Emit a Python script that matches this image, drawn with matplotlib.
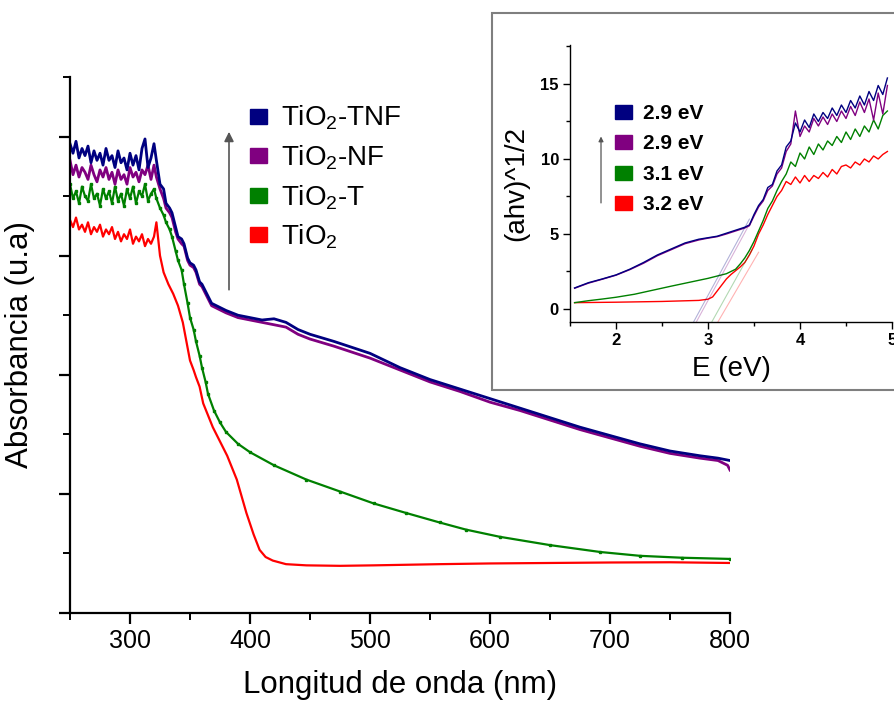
import numpy as np
import matplotlib
matplotlib.use("Agg")
import matplotlib.pyplot as plt
from matplotlib.patches import Patch, Rectangle

plt.rcParams["font.family"] = ["Liberation Sans", "DejaVu Sans"]
plt.rcParams["mathtext.fontset"] = "custom"
plt.rcParams["mathtext.rm"] = "Liberation Sans"
plt.rcParams["mathtext.it"] = "Liberation Sans:italic"
plt.rcParams["mathtext.bf"] = "Liberation Sans:bold"

# ---- main spectra (absorbance, arbitrary units) ----
# noisy flat region 250-320 nm, shared wavelength grid
wl_flat = [250, 252.5, 255, 257.5, 260, 262.5, 265, 267.5, 270, 272.5, 275, 277.5, 280, 282.5,
           285, 287.5, 290, 292.5, 295, 297.5, 300, 302.5, 305, 307.5, 310, 312.5, 315, 317.5, 320]

flat_tnf = [1.97, 1.93, 1.98, 1.91, 1.95, 1.92, 1.96, 1.89, 1.94, 1.90, 1.93, 1.88, 1.95, 1.90,
            1.92, 1.87, 1.94, 1.89, 1.91, 1.86, 1.93, 1.88, 1.92, 1.86, 1.95, 1.99, 1.87, 1.91, 1.97]
flat_nf = [1.90, 1.84, 1.88, 1.83, 1.87, 1.85, 1.82, 1.88, 1.84, 1.81, 1.86, 1.83, 1.87, 1.82,
           1.85, 1.80, 1.86, 1.82, 1.84, 1.80, 1.87, 1.83, 1.85, 1.81, 1.86, 1.84, 1.88, 1.82, 1.88]
flat_t = [1.80, 1.74, 1.77, 1.72, 1.79, 1.75, 1.73, 1.80, 1.74, 1.76, 1.71, 1.78, 1.74, 1.77,
          1.72, 1.79, 1.73, 1.76, 1.71, 1.78, 1.74, 1.79, 1.72, 1.77, 1.75, 1.80, 1.73, 1.76, 1.78]
flat_ti = [1.65, 1.62, 1.66, 1.61, 1.63, 1.60, 1.64, 1.59, 1.62, 1.60, 1.63, 1.58, 1.61, 1.59,
           1.62, 1.57, 1.60, 1.56, 1.59, 1.57, 1.61, 1.55, 1.58, 1.56, 1.59, 1.54, 1.57, 1.55, 1.58]

# edge and tail, > 320 nm
wl_tnf = [322, 325, 328, 330, 333, 335, 338, 340, 343, 345, 348, 350, 353, 355, 358, 360, 365,
          368, 372, 380, 390, 400, 410, 420, 430, 440, 450, 470, 500, 525, 550, 575, 600, 625,
          650, 675, 700, 725, 750, 775, 790, 800]
abs_tnf = [1.90, 1.80, 1.78, 1.72, 1.70, 1.68, 1.62, 1.58, 1.57, 1.55, 1.49, 1.47, 1.46, 1.44, 1.39,
           1.38, 1.33, 1.30, 1.29, 1.27, 1.25, 1.24, 1.23, 1.235, 1.22, 1.19, 1.17, 1.14, 1.09, 1.03,
           0.98, 0.94, 0.90, 0.86, 0.82, 0.78, 0.745, 0.71, 0.68, 0.66, 0.65, 0.64]

wl_nf = [322, 325, 328, 330, 333, 335, 338, 340, 343, 345, 348, 350, 353, 355, 358, 360, 365,
         368, 372, 380, 390, 400, 410, 420, 430, 440, 450, 470, 500, 525, 550, 575, 600, 625,
         650, 675, 700, 725, 750, 775, 790, 798, 800]
abs_nf = [1.83, 1.78, 1.74, 1.70, 1.68, 1.66, 1.60, 1.57, 1.55, 1.54, 1.48, 1.46, 1.45, 1.43, 1.38,
          1.37, 1.32, 1.29, 1.28, 1.26, 1.24, 1.23, 1.22, 1.21, 1.20, 1.17, 1.15, 1.12, 1.07, 1.02,
          0.97, 0.93, 0.885, 0.85, 0.81, 0.77, 0.735, 0.70, 0.67, 0.65, 0.64, 0.62, 0.60]

wl_t = [322, 325, 328, 330, 333, 335, 338, 340, 343, 345, 348, 350, 353, 355, 358, 360, 363, 365,
        370, 375, 380, 390, 400, 420, 447, 475, 503, 530, 558, 580, 608, 650, 692, 725, 760, 800]
abs_t = [1.74, 1.70, 1.67, 1.64, 1.61, 1.58, 1.52, 1.48, 1.44, 1.38, 1.30, 1.24, 1.19, 1.14, 1.08,
         1.03, 0.97, 0.92, 0.85, 0.80, 0.76, 0.71, 0.675, 0.62, 0.56, 0.51, 0.46, 0.42, 0.38, 0.35,
         0.32, 0.285, 0.256, 0.24, 0.232, 0.227]

wl_ti = [322, 325, 328, 332, 336, 340, 344, 347, 350, 353, 355, 358, 361, 365, 369, 375, 381, 389,
         397, 403, 408, 413, 419, 430, 447, 475, 503, 558, 600, 700, 750, 800]
abs_ti = [1.64, 1.50, 1.43, 1.38, 1.34, 1.29, 1.22, 1.14, 1.06, 1.02, 0.99, 0.95, 0.88, 0.83, 0.78,
          0.72, 0.66, 0.56, 0.42, 0.33, 0.265, 0.235, 0.22, 0.205, 0.20, 0.198, 0.20, 0.205, 0.208,
          0.212, 0.213, 0.21]

labels = ["TiO$_2$-TNF", "TiO$_2$-NF", "TiO$_2$-T", "TiO$_2$"]
colors = ["#000080", "#800080", "#008000", "#ff0000"]

# ---- inset: Tauc plot ----
e_tnf = [1.55, 1.7, 1.85, 2.0, 2.15, 2.3, 2.45, 2.6, 2.75, 2.9, 3.0, 3.1, 3.2, 3.3, 3.4, 3.45,
         3.5, 3.55, 3.6, 3.65, 3.7, 3.75, 3.8, 3.85, 3.9, 3.95, 4.0, 4.05, 4.1, 4.15, 4.2,
         4.25, 4.3, 4.35, 4.4, 4.45, 4.5, 4.55, 4.6, 4.65, 4.7, 4.75, 4.8, 4.85, 4.9, 4.95]
t_tnf = [1.4, 1.75, 2.0, 2.27, 2.65, 3.1, 3.6, 4.0, 4.4, 4.65, 4.75, 4.85, 5.05, 5.25, 5.45, 5.6,
         6.3, 6.9, 7.3, 8.1, 8.3, 9.2, 9.6, 10.8, 11.2, 12.4, 11.8, 12.6, 12.1, 13.0, 12.5,
         13.1, 12.7, 13.4, 12.9, 13.6, 13.1, 13.9, 13.4, 14.2, 13.6, 14.5, 13.9, 14.9, 14.3, 15.4]

e_nf = e_tnf
t_nf = [1.38, 1.72, 1.98, 2.25, 2.62, 3.05, 3.55, 3.95, 4.35, 4.6, 4.72, 4.82, 5.0, 5.2, 5.4, 5.55,
        6.2, 6.8, 7.2, 7.9, 8.2, 9.0, 9.4, 10.5, 11.0, 13.2, 11.5, 12.2, 11.8, 12.7, 12.2,
        12.8, 12.3, 13.0, 12.5, 13.2, 12.7, 13.5, 12.9, 13.8, 13.1, 14.0, 12.6, 14.4, 13.0, 14.9]

e_t = [1.55, 1.7, 1.85, 2.0, 2.2, 2.4, 2.6, 2.8, 3.0, 3.2, 3.3, 3.35, 3.4, 3.45,
       3.5, 3.55, 3.6, 3.65, 3.7, 3.75, 3.8, 3.85, 3.9, 3.95, 4.0, 4.05, 4.1, 4.15, 4.2,
       4.25, 4.3, 4.35, 4.4, 4.45, 4.5, 4.55, 4.6, 4.65, 4.7, 4.75, 4.8, 4.85, 4.9, 4.95]
t_t = [0.42, 0.55, 0.66, 0.78, 0.98, 1.25, 1.52, 1.78, 2.04, 2.35, 2.65, 3.0, 3.4, 3.9,
       4.5, 5.2, 5.9, 6.7, 7.2, 7.9, 8.5, 9.0, 9.8, 9.5, 10.4, 10.0, 10.8, 10.3, 11.0,
       10.6, 11.2, 10.9, 11.5, 11.1, 11.8, 11.3, 12.0, 11.5, 12.2, 11.8, 12.6, 12.0, 12.9, 13.2]

e_ti = [1.55, 2.0, 2.5, 2.9, 3.0, 3.05, 3.1, 3.15, 3.2, 3.25, 3.3, 3.35, 3.4, 3.45,
        3.5, 3.55, 3.6, 3.65, 3.7, 3.75, 3.8, 3.85, 3.9, 3.95, 4.0, 4.05, 4.1, 4.15, 4.2,
        4.25, 4.3, 4.35, 4.4, 4.45, 4.5, 4.55, 4.6, 4.65, 4.7, 4.75, 4.8, 4.85, 4.9, 4.95]
t_ti = [0.42, 0.45, 0.5, 0.57, 0.65, 0.8, 1.2, 1.6, 2.0, 2.3, 2.55, 2.8, 3.1, 3.6,
        4.2, 5.0, 5.6, 6.3, 6.9, 7.5, 7.9, 8.5, 8.3, 8.8, 8.4, 8.9, 8.5, 8.9, 8.7,
        9.1, 8.8, 9.3, 9.0, 9.5, 9.6, 9.4, 9.8, 9.6, 10.0, 9.8, 10.2, 10.0, 10.3, 10.5]

gap_labels = ["2.9 eV", "2.9 eV", "3.1 eV", "3.2 eV"]
# linear extrapolation of the absorption edge: zero crossing, slope, end of fit
edge_e0 = [2.92, 2.95, 3.12, 3.19]
edge_slope = [11.3, 11.3, 11.0, 10.5]
edge_end = [3.45, 3.45, 3.48, 3.55]

fig = plt.figure(figsize=(8.95, 7.05), dpi=100)
ax = fig.add_axes([70 / 895, 1 - 613 / 705, 660 / 895, 536 / 705])

main_x = [wl_flat + wl_tnf, wl_flat + wl_nf, wl_flat + wl_t, wl_flat + wl_ti]
main_y = [flat_tnf + abs_tnf, flat_nf + abs_nf, flat_t + abs_t, flat_ti + abs_ti]
for i in [3, 2, 1, 0]:
    kw = dict(marker="s", markersize=1.6) if i == 2 else {}
    ax.plot(main_x[i], main_y[i], color=colors[i], lw=2.0 if i < 2 else 1.6, **kw)

ax.set_xlim(250, 800)
ax.set_ylim(0, 2.25)
ax.set_xticks([300, 400, 500, 600, 700, 800])
ax.set_xticks(np.arange(250, 801, 50), minor=True)
ax.set_yticks(np.arange(0, 2.01, 0.5))
ax.set_yticks(np.arange(0.25, 2.3, 0.5), minor=True)
ax.set_yticklabels([])
for s in ["top", "right"]:
    ax.spines[s].set_visible(False)
for s in ["left", "bottom"]:
    ax.spines[s].set_linewidth(1.6)
ax.tick_params(which="major", direction="out", length=8, width=1.6, labelsize=18)
ax.tick_params(which="minor", direction="out", length=5, width=1.4)
ax.set_xlabel("Longitud de onda (nm)", fontsize=22.5, labelpad=12)
ax.set_ylabel("Absorbancia (u.a)", fontsize=22.5, labelpad=14)

handles = [Patch(facecolor=c, edgecolor=c) for c in colors]
ax.legend(handles, labels, loc="upper left", bbox_to_anchor=(250 / 895, 1 - 104 / 705),
          bbox_transform=fig.transFigure, frameon=False, fontsize=20,
          handlelength=0.6, handleheight=0.45, handletextpad=0.5, labelspacing=0.4,
          borderaxespad=0, borderpad=0)

ax.annotate("", xy=(382.5, 2.02), xytext=(382.5, 1.357),
            arrowprops=dict(arrowstyle="-|>", color="#555555", lw=1.2,
                            mutation_scale=14, shrinkA=0, shrinkB=0))

# inset frame
fig.patches.append(Rectangle((492 / 895, 1 - 390 / 705), 0.5, 377 / 705,
                             transform=fig.transFigure, facecolor="white",
                             edgecolor="#7f7f7f", lw=1.5, zorder=1))

ins = fig.add_axes([570 / 895, 1 - 322 / 705, 322 / 895, 277 / 705], zorder=2)
ins.patch.set_alpha(0)
ins_x = [e_tnf, e_nf, e_t, e_ti]
ins_y = [t_tnf, t_nf, t_t, t_ti]
for i in [3, 2, 1, 0]:
    ins.plot(ins_x[i], ins_y[i], color=colors[i], lw=1.0)
for i in range(4):
    ee = np.array([edge_e0[i] - 1.0 / edge_slope[i], edge_end[i]])
    ins.plot(ee, edge_slope[i] * (ee - edge_e0[i]), color=colors[i], lw=0.8, alpha=0.3)

ins.set_xlim(1.5, 5)
ins.set_ylim(-0.87, 17.6)
ins.set_xticks([2, 3, 4, 5])
ins.set_xticks(np.arange(1.5, 5.01, 0.5), minor=True)
ins.set_yticks([0, 5, 10, 15])
ins.set_yticks(np.arange(2.5, 17.6, 5), minor=True)
for s in ["top", "right"]:
    ins.spines[s].set_visible(False)
for s in ["left", "bottom"]:
    ins.spines[s].set_linewidth(1.0)
ins.tick_params(which="major", direction="out", length=5, width=1.0, labelsize=12, pad=3)
ins.tick_params(which="minor", direction="out", length=3, width=1.0)
for lab in ins.get_xticklabels() + ins.get_yticklabels():
    lab.set_fontweight("bold")
ins.set_xlabel("E (eV)", fontsize=20, labelpad=6)
ins.set_ylabel("(ahv)^1/2", fontsize=20, labelpad=8)

ins.legend([Patch(facecolor=c, edgecolor=c) for c in colors], gap_labels,
           loc="upper left", bbox_to_anchor=(615 / 895, 1 - 104 / 705),
           bbox_transform=fig.transFigure, frameon=False,
           prop=dict(size=15, weight="bold"),
           handlelength=0.8, handleheight=0.65, handletextpad=0.55, labelspacing=0.55,
           borderaxespad=0, borderpad=0)

ins.annotate("", xy=(1.837, 11.5), xytext=(1.837, 7.07),
             arrowprops=dict(arrowstyle="-|>", color="#555555", lw=0.9,
                             mutation_scale=7, shrinkA=0, shrinkB=0))

fig.savefig("out.png", dpi=100)
